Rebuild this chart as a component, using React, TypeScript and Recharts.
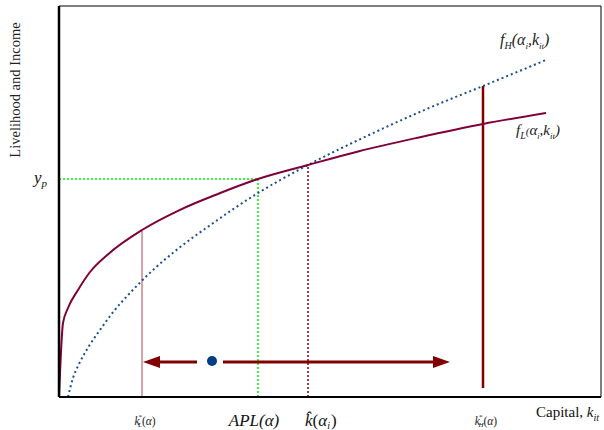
import { ComposedChart, Line, XAxis, YAxis, ReferenceLine, ReferenceDot } from "recharts"

// capital positions (x units) and output levels (y units)
const capitalL = [0, 4, 9, 19, 31, 50, 83, 120, 160, 199, 249, 300, 360, 424, 487]
const incomeL = [0, 74, 89, 107, 125, 143.6, 167, 186.7, 203.5, 218, 232, 245.8, 259.6, 273, 284]

const capitalH = [9, 14, 20, 30, 41, 55, 71, 94, 120, 150, 199, 249, 310, 370, 424, 487]
const incomeH = [0, 19, 33, 51, 67, 86, 104, 127, 149, 171, 204, 232, 262, 289, 311, 337]

// key capital levels on the x axis
const kLow = 83
const kApl = 199
const kHat = 249
const kHigh = 424
const yPoverty = 218
const highTop = 311
const xMax = 542
const yMax = 391

// the asset dynamics arrows
const arrowY = 35
const startK = 153
const leftArrow = [138, 92]
const leftTip = 84
const rightArrow = [164, 375]
const rightTip = 391

const lowData = capitalL.map((k, i) => ({ k, v: incomeL[i] }))
const highData = capitalH.map((k, i) => ({ k, v: incomeH[i] }))

const MAROON = "#80003a"
const BLUE = "#1b4f8f"
const DARK_RED = "#800000"
const SERIF = "'Liberation Serif', 'Times New Roman', serif"

const KTick = ({ x, y, payload }: any) => {
  const v = payload.value
  if (v === kLow || v === kHigh) {
    return (
      <text x={x + 3} y={y + 20} textAnchor="middle" fontFamily={SERIF} fontSize={11.5} fill="#222">
        <tspan fontStyle="italic">k</tspan>
        <tspan dx={-1} dy={-6} fontSize={7}>*</tspan>
        <tspan dx={-4} dy={8} fontSize={7} fontStyle="italic">{v === kLow ? "L" : "H"}</tspan>
        <tspan dy={-2}>(</tspan>
        <tspan fontStyle="italic">α</tspan>
        <tspan>)</tspan>
      </text>
    )
  }
  if (v === kApl) {
    return (
      <text x={x - 4} y={y + 21} textAnchor="middle" fontFamily={SERIF} fontSize={17} fontStyle="italic" fill="#111">
        APL(α)
      </text>
    )
  }
  return (
    <text x={x - 3} y={y + 21} fontFamily={SERIF} fontSize={17} fill="#111">
      <tspan fontStyle="italic">k̂</tspan>
      <tspan>(</tspan>
      <tspan fontStyle="italic">α</tspan>
      <tspan dy={3} fontSize={10} fontStyle="italic">i</tspan>
      <tspan dx={1} dy={-3}>)</tspan>
    </text>
  )
}

const YTick = ({ x, y }: any) => (
  <text x={x - 17} y={y + 4} fontFamily={SERIF} fontSize={17} fontStyle="italic" fill="#111">
    y<tspan dy={4} fontSize={11}>p</tspan>
  </text>
)

const arrowHead = (dir: number) => (props: any) => {
  const { cx, cy } = props
  return (
    <polygon
      points={`${cx},${cy} ${cx - dir * 17},${cy - 6} ${cx - dir * 17},${cy + 6}`}
      fill={DARK_RED}
    />
  )
}

export default function App() {
  return (
    <div style={{ position: "absolute", left: 0, top: 0, width: 604, height: 430, fontFamily: SERIF }}>
      <ComposedChart width={604} height={430} margin={{ top: 6, right: 3, left: 0, bottom: 0 }}>
        <XAxis
          type="number"
          dataKey="k"
          domain={[0, xMax]}
          ticks={[kLow, kApl, kHat, kHigh]}
          interval={0}
          height={33}
          tick={<KTick />}
          tickLine={false}
          axisLine={false}
          allowDataOverflow
        />
        <YAxis
          type="number"
          domain={[0, yMax]}
          ticks={[yPoverty]}
          width={59}
          tick={<YTick />}
          tickLine={false}
          axisLine={false}
          allowDataOverflow
        />

        <ReferenceLine y={yMax} stroke="#000" strokeWidth={1} />
        <ReferenceLine x={xMax} stroke="#000" strokeWidth={1} />

        <ReferenceLine segment={[{ x: 0, y: yPoverty }, { x: kApl, y: yPoverty }]} stroke="#00ee00" strokeWidth={1.5} strokeDasharray="2 2" />
        <ReferenceLine segment={[{ x: kApl, y: 0 }, { x: kApl, y: yPoverty }]} stroke="#00ee00" strokeWidth={1.5} strokeDasharray="2 2" />
        <ReferenceLine segment={[{ x: kHat, y: 0 }, { x: kHat, y: incomeL[capitalL.indexOf(kHat)] }]} stroke={DARK_RED} strokeWidth={1.5} strokeDasharray="2 2" />
        <ReferenceLine segment={[{ x: kLow, y: 0 }, { x: kLow, y: incomeL[capitalL.indexOf(kLow)] }]} stroke="#b5474b" strokeWidth={1} />
        <ReferenceLine segment={[{ x: kHigh, y: 9 }, { x: kHigh, y: highTop }]} stroke={DARK_RED} strokeWidth={2.5} />

        <Line data={highData} dataKey="v" type="monotone" stroke={BLUE} strokeWidth={2} strokeDasharray="2 3" dot={false} isAnimationActive={false} />
        <Line data={lowData} dataKey="v" type="monotone" stroke={MAROON} strokeWidth={2} dot={false} isAnimationActive={false} />

        <ReferenceLine segment={[{ x: leftArrow[0], y: arrowY }, { x: leftArrow[1], y: arrowY }]} stroke={DARK_RED} strokeWidth={3} />
        <ReferenceLine segment={[{ x: rightArrow[0], y: arrowY }, { x: rightArrow[1], y: arrowY }]} stroke={DARK_RED} strokeWidth={3} />
        <ReferenceDot x={leftTip} y={arrowY} r={1} shape={arrowHead(-1)} />
        <ReferenceDot x={rightTip} y={arrowY} r={1} shape={arrowHead(1)} />
        <ReferenceDot x={startK} y={arrowY + 1} r={5} fill="#003f87" stroke="none" />

        <ReferenceLine x={0} stroke="#000" strokeWidth={2.5} />
        <ReferenceLine y={0} stroke="#000" strokeWidth={2} />
      </ComposedChart>

      <div style={{ position: "absolute", left: 4, top: 90, width: 0, height: 0 }}>
        <div style={{ position: "absolute", transform: "translate(-50%, -50%) rotate(-90deg)", left: 11, top: 0, whiteSpace: "nowrap", fontSize: 14.5, color: "#222" }}>
          Livelihood and Income
        </div>
      </div>
      <div style={{ position: "absolute", left: 536, top: 404, whiteSpace: "nowrap", fontSize: 15, color: "#111" }}>
        Capital, <i>k</i><sub style={{ fontSize: 10, fontStyle: "italic" }}>it</sub>
      </div>
      <div style={{ position: "absolute", left: 500, top: 31, whiteSpace: "nowrap", fontSize: 16, fontStyle: "italic", color: "#222" }}>
        f<sub style={{ fontSize: 10 }}>H</sub>(α<sub style={{ fontSize: 9 }}>i</sub>,k<sub style={{ fontSize: 9 }}>it</sub>)
      </div>
      <div style={{ position: "absolute", left: 516, top: 122, whiteSpace: "nowrap", fontSize: 15, fontStyle: "italic", color: "#222" }}>
        f<sub style={{ fontSize: 10 }}>L</sub><span style={{ fontSize: 11 }}>(</span>α<sub style={{ fontSize: 8 }}>i</sub>,k<sub style={{ fontSize: 9 }}>it</sub>)
      </div>
    </div>
  )
}
